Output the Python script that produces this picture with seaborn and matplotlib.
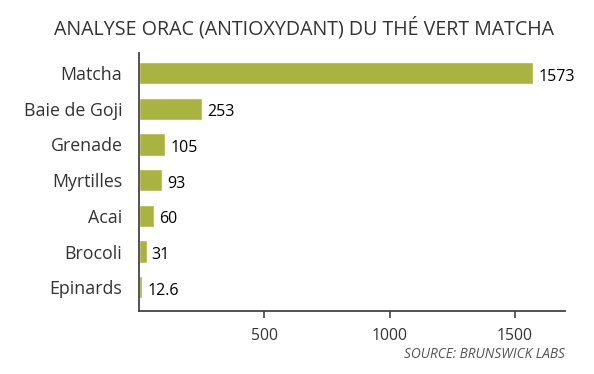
import matplotlib
matplotlib.use("Agg")
import matplotlib.pyplot as plt
import seaborn as sns
import pandas as pd

aliments = ["Matcha", "Baie de Goji", "Grenade", "Myrtilles", "Acai", "Brocoli", "Epinards"]
orac = [1573, 253, 105, 93, 60, 31, 12.6]
etiquettes = ["1573", "253", "105", "93", "60", "31", "12.6"]
graduations = [500, 1000, 1500]

df = pd.DataFrame({"aliment": aliments, "orac": orac})

sns.set_style("white")
plt.rcParams['font.family'] = ['Open Sans', 'DejaVu Sans']

fig = plt.figure(figsize=(5.94, 3.74), dpi=100)
ax = fig.add_axes([0.234, 0.168, 0.717, 0.69])

sns.barplot(data=df, x="orac", y="aliment", color="#a8b43f", width=0.62,
            saturation=1, ax=ax)

for i, (v, t) in enumerate(zip(orac, etiquettes)):
    ax.text(v + 20, i + 0.1, t, va="center", ha="left", fontsize=11.5,
            color="black")

ax.set_xlim(0, 1700)
ax.set_ylim(6.67, -0.56)
ax.set_xticks(graduations)
ax.set_xlabel("")
ax.set_ylabel("")
ax.tick_params(axis="y", length=0, labelsize=12.8, labelcolor="#333333", pad=12)
ax.tick_params(axis="x", length=5, width=1.2, color="#444444", labelsize=11.3,
               labelcolor="#333333", direction="out", bottom=True, pad=7)
sns.despine(ax=ax)
for s in ["left", "bottom"]:
    ax.spines[s].set_color("#444444")
    ax.spines[s].set_linewidth(1.3)

fig.text(0.512, 0.925, "ANALYSE ORAC (ANTIOXYDANT) DU THÉ VERT MATCHA",
         ha="center", va="center", fontsize=14.1, color="#333333")
fig.text(0.951, 0.053, "SOURCE: BRUNSWICK LABS", ha="right", va="center",
         fontsize=9.8, style="italic", color="#555555")

fig.savefig("out.png", dpi=100)
